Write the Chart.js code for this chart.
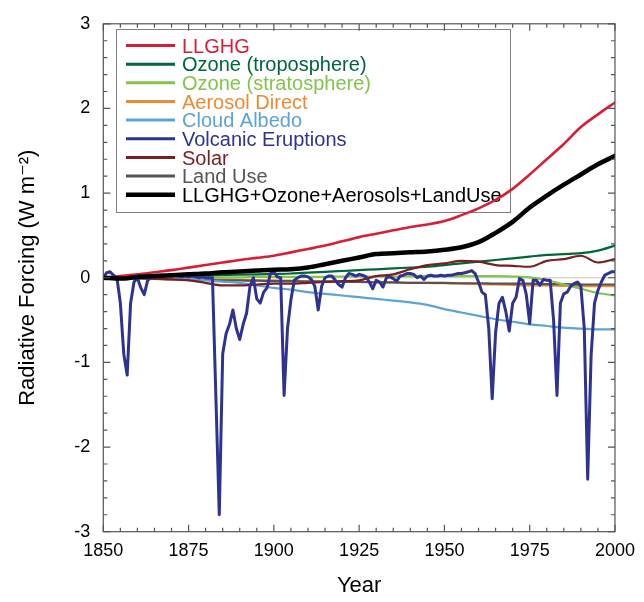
<!DOCTYPE html>
<html><head><meta charset="utf-8">
<script src="https://cdn.jsdelivr.net/npm/chart.js@4/dist/chart.umd.min.js"></script>
<style>html,body{margin:0;padding:0;background:#fff}#wrap{width:644px;height:602px}</style>
</head><body><div id="wrap"><canvas id="c" width="644" height="602"></canvas></div>
<script>
const FONT = "'Liberation Sans', Arial, Helvetica, 'DejaVu Sans', sans-serif";

const smoothYears = [1850,1855,1860,1865,1870,1875,1880,1885,1890,1895,1900,1905,1910,1915,1920,1925,1930,1935,1940,1945,1950,1955,1960,1965,1970,1975,1980,1985,1990,1995,2000];

const llghg = [0.0,0.02,0.04,0.065,0.09,0.12,0.15,0.18,0.21,0.235,0.26,0.3,0.34,0.38,0.43,0.48,0.52,0.56,0.6,0.63,0.67,0.74,0.82,0.92,1.05,1.22,1.4,1.58,1.78,1.93,2.07];
const ozoneTrop = [0,0.005,0.01,0.015,0.02,0.025,0.03,0.033,0.036,0.04,0.045,0.05,0.06,0.07,0.08,0.09,0.1,0.11,0.12,0.13,0.15,0.17,0.19,0.21,0.23,0.25,0.27,0.28,0.29,0.32,0.38];
const ozoneStrat = [0,0,0,0,0,0,0.005,0.005,0.005,0.01,0.01,0.01,0.01,0.01,0.015,0.015,0.015,0.015,0.02,0.02,0.02,0.02,0.02,0.02,0.015,0.005,-0.03,-0.08,-0.13,-0.18,-0.21];
const aerosolDirect = [0,0,-0.005,-0.01,-0.01,-0.015,-0.02,-0.02,-0.025,-0.03,-0.03,-0.035,-0.04,-0.04,-0.045,-0.05,-0.05,-0.055,-0.06,-0.06,-0.065,-0.07,-0.075,-0.08,-0.085,-0.09,-0.09,-0.095,-0.1,-0.1,-0.1];
const cloudAlbedo = [0,0,0,0,-0.005,-0.015,-0.03,-0.045,-0.06,-0.09,-0.12,-0.14,-0.17,-0.19,-0.21,-0.23,-0.25,-0.27,-0.29,-0.32,-0.37,-0.41,-0.45,-0.49,-0.52,-0.55,-0.57,-0.59,-0.6,-0.61,-0.61];
const solar = [0,-0.01,0.0,-0.01,-0.02,-0.03,-0.06,-0.09,-0.09,-0.08,-0.07,-0.07,-0.06,-0.05,-0.04,-0.03,0.02,0.04,0.1,0.15,0.17,0.2,0.19,0.15,0.14,0.13,0.2,0.22,0.26,0.18,0.22];
const landUse = [0,-0.005,-0.01,-0.015,-0.02,-0.02,-0.025,-0.03,-0.03,-0.035,-0.04,-0.04,-0.045,-0.045,-0.05,-0.05,-0.055,-0.055,-0.06,-0.06,-0.06,-0.065,-0.065,-0.07,-0.07,-0.07,-0.075,-0.075,-0.08,-0.08,-0.08];
const total = [0,-0.01,0.01,0.02,0.03,0.04,0.05,0.065,0.075,0.085,0.095,0.1,0.12,0.16,0.2,0.24,0.28,0.29,0.3,0.31,0.33,0.36,0.42,0.53,0.66,0.83,0.97,1.1,1.22,1.34,1.44];

const volcYears = [
1850,1851,1852,1853,1854,1855,1856,1857,1858,1859,
1860,1861,1862,1863,1864,1865,1866,1867,1868,1869,
1870,1871,1872,1873,1874,1875,1876,1877,1878,1879,
1880,1881,1882,1883,1884,1885,1886,1887,1888,1889,
1890,1891,1892,1893,1894,1895,1896,1897,1898,1899,
1900,1901,1902,1903,1904,1905,1906,1907,1908,1909,
1910,1911,1912,1913,1914,1915,1916,1917,1918,1919,
1920,1921,1922,1923,1924,1925,1926,1927,1928,1929,
1930,1931,1932,1933,1934,1935,1936,1937,1938,1939,
1940,1941,1942,1943,1944,1945,1946,1947,1948,1949,
1950,1951,1952,1953,1954,1955,1956,1957,1958,1959,
1960,1961,1962,1963,1964,1965,1966,1967,1968,1969,
1970,1971,1972,1973,1974,1975,1976,1977,1978,1979,
1980,1981,1982,1983,1984,1985,1986,1987,1988,1989,
1990,1991,1992,1993,1994,1995,1996,1997,1998,1999,
2000];
const volcanic = [
0.0,0.06,0.07,0.03,0.0,-0.3,-0.9,-1.15,-0.3,-0.05,
0.0,-0.12,-0.2,-0.03,0.0,0.02,0.03,0.03,0.02,0.03,
0.02,0.03,0.02,0.01,0.02,0.01,0.02,0.01,0.0,0.01,
0.0,0.0,0.0,-1.4,-2.8,-0.9,-0.66,-0.55,-0.38,-0.6,
-0.73,-0.55,-0.42,-0.1,0.0,-0.25,-0.3,-0.17,-0.12,0.05,
0.07,0.01,0.0,-1.39,-0.6,-0.26,-0.03,0.0,0.02,0.02,
0.01,-0.02,-0.1,-0.38,-0.1,0.0,0.02,0.02,-0.03,-0.08,
-0.11,0.0,0.05,0.04,0.02,0.04,0.03,0.01,-0.05,-0.13,
-0.03,-0.05,-0.11,0.0,0.01,-0.01,-0.04,0.02,0.03,0.05,
0.05,0.04,0.0,0.02,-0.02,0.02,0.03,0.02,0.02,0.03,
0.02,0.03,0.03,0.04,0.05,0.05,0.06,0.07,0.085,0.05,
-0.05,-0.17,-0.2,-0.6,-1.43,-0.65,-0.3,-0.23,-0.4,-0.63,
-0.3,-0.23,-0.01,-0.03,-0.2,-0.54,-0.03,-0.03,-0.09,-0.02,
-0.03,-0.03,-0.5,-1.39,-0.3,-0.19,-0.17,-0.1,-0.07,-0.05,
-0.1,-0.6,-2.38,-0.92,-0.3,-0.15,-0.05,0.03,0.05,0.07,
0.07];

const xTickLabels = [1850,1875,1900,1925,1950,1975,2000];
const yTickLabels = [-3,-2,-1,0,1,2,3];

function pts(xs, ys){ return xs.map((x,i)=>({x:x, y:ys[i]})); }

function ds(label, xs, ys, color, width, order, smooth){
  return {label, data: pts(xs, ys), borderColor: color, backgroundColor: color,
    borderWidth: width, pointRadius: 0, order, fill:false,
    cubicInterpolationMode: smooth ? 'monotone' : 'default', tension: 0,
    borderJoinStyle:'round', borderCapStyle:'round'};
}

const datasets = [
  ds('LLGHG', smoothYears, llghg, '#d81e34', 2.6, 2, true),
  ds('Ozone (troposphere)', smoothYears, ozoneTrop, '#00673a', 2.2, 5, true),
  ds('Ozone (stratosphere)', smoothYears, ozoneStrat, '#84c44a', 2.2, 6, true),
  ds('Aerosol Direct', smoothYears, aerosolDirect, '#ef8a32', 2.2, 8, true),
  ds('Cloud Albedo', smoothYears, cloudAlbedo, '#5da3d5', 2.2, 4, true),
  ds('Volcanic Eruptions', volcYears, volcanic, '#2e3392', 3, 1, false),
  ds('Solar', smoothYears, solar, '#7a1e22', 2.2, 3, true),
  ds('Land Use', smoothYears, landUse, '#555555', 2.2, 7, true),
  ds('LLGHG+Ozone+Aerosols+LandUse', smoothYears, total, '#000000', 4.5, 0, true)
];

const framePlugin = {
  id: 'frame',
  beforeDatasetsDraw(chart){
    const {ctx, chartArea: a, scales} = chart;
    ctx.save();
    const y0 = scales.y.getPixelForValue(0);
    ctx.strokeStyle = '#c8c8c8'; ctx.lineWidth = 1;
    ctx.beginPath(); ctx.moveTo(a.left, y0); ctx.lineTo(a.right, y0); ctx.stroke();
    const lx = 116, ly = 29, lw = 394, lh = 183;
    ctx.strokeStyle = '#808080'; ctx.lineWidth = 1;
    ctx.strokeRect(lx+0.5, ly+0.5, lw, lh);
    ctx.font = '20px ' + FONT;
    ctx.textBaseline = 'alphabetic';
    chart.data.datasets.forEach((d,i)=>{
      const ry = 45.5 + i*18.65;
      ctx.strokeStyle = d.borderColor;
      ctx.lineWidth = d.borderWidth >= 4 ? 4.5 : 3;
      ctx.lineCap = 'butt';
      ctx.beginPath(); ctx.moveTo(126, ry); ctx.lineTo(175, ry); ctx.stroke();
      ctx.fillStyle = d.borderColor;
      ctx.fillText(d.label, 182, ry + 7.2);
    });
    ctx.restore();
  },
  afterDraw(chart){
    const {ctx, chartArea: a, scales} = chart;
    ctx.save();
    ctx.strokeStyle = '#555'; ctx.lineWidth = 1.2;
    ctx.strokeRect(a.left, a.top, a.right-a.left, a.bottom-a.top);
    ctx.beginPath();
    for (let v = 1850; v <= 2000; v += 5){
      const x = scales.x.getPixelForValue(v);
      const L = (v % 25 === 0) ? 7 : 4;
      ctx.moveTo(x, a.bottom); ctx.lineTo(x, a.bottom - L);
      ctx.moveTo(x, a.top); ctx.lineTo(x, a.top + L);
    }
    for (let k = -15; k <= 15; k++){
      const v = k/5;
      const y = scales.y.getPixelForValue(v);
      const L = (k % 5 === 0) ? 7 : 4;
      ctx.moveTo(a.left, y); ctx.lineTo(a.left + L, y);
      ctx.moveTo(a.right, y); ctx.lineTo(a.right - L, y);
    }
    ctx.stroke();
    ctx.restore();
  }
};

new Chart(document.getElementById('c'), {
  type: 'line',
  data: { datasets },
  plugins: [framePlugin],
  options: {
    responsive: false,
    animation: false,
    devicePixelRatio: 1,
    layout: { padding: { left: 0, top: 16.5, right: 26.7, bottom: 0 } },
    plugins: { legend: { display: false }, tooltip: { enabled: false } },
    scales: {
      x: {
        type: 'linear', min: 1850, max: 2000,
        afterFit: s => { s.height = 70.3; },
        afterBuildTicks: s => { s.ticks = xTickLabels.map(v => ({value: v})); },
        grid: { display: false, drawTicks: false },
        border: { display: false },
        ticks: { color: '#000', font: { family: FONT, size: 18 }, padding: 9, maxRotation: 0, autoSkip: false,
                 callback: v => String(v) },
        title: { display: true, text: 'Year', color: '#000', font: { family: FONT, size: 22 }, padding: { top: 0, bottom: 3 } }
      },
      y: {
        type: 'linear', min: -3, max: 3,
        afterFit: s => { s.width = 103.3; },
        afterBuildTicks: s => { s.ticks = yTickLabels.map(v => ({value: v})); },
        grid: { display: false, drawTicks: false },
        border: { display: false },
        ticks: { color: '#000', font: { family: FONT, size: 18 }, padding: 13, callback: v => String(v) },
        title: { display: true, text: 'Radiative Forcing (W m⁻²)', color: '#000', font: { family: FONT, size: 22 }, padding: { top: 15, bottom: 0 } }
      }
    }
  }
});
</script>
</body></html>
